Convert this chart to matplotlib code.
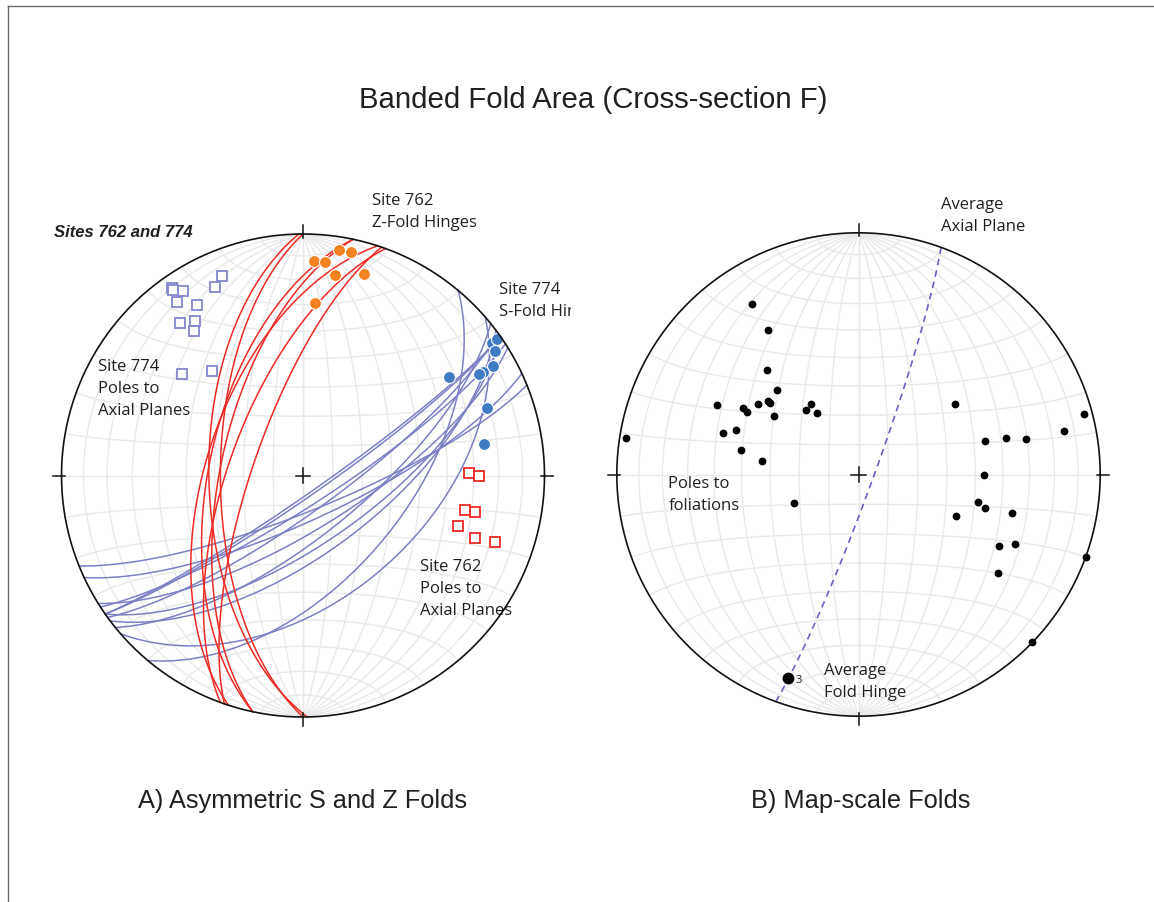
"""
Banded Fold Area (Cross-section F): two lower-hemisphere equal-area nets.
Output: out.png
"""

import numpy as np
import matplotlib
matplotlib.use("Agg")
import matplotlib.pyplot as plt
from matplotlib.lines import Line2D

# ---------------------------------------------------------------------------
# Data (degrees, lower hemisphere)
# ---------------------------------------------------------------------------

# Site 762 - Z-fold hinges (trend / plunge)
z_hinge_trend  = [3, 6, 9, 12, 9, 17, 4]
z_hinge_plunge = [12, 12, 6, 6, 17, 14, 29]

# Site 762 - poles to axial planes
ap762_trend  = [89, 90, 102, 102, 108, 110, 109]
ap762_plunge = [32, 28, 32, 28, 33, 25, 17]

# Site 774 - S-fold hinges
s_hinge_trend  = [55, 57, 60, 60, 60, 56, 70, 80, 55]
s_hinge_plunge = [5, 6, 10, 15, 17, 28, 20, 25, 2]

# Site 774 - poles to axial planes
ap774_trend  = [338, 335, 325, 325, 327, 324, 328, 321, 325, 323, 310, 319]
ap774_plunge = [12, 15, 6, 7, 10, 12, 18, 20, 23, 26, 35, 42]

# Map-scale folds - poles to foliations
fol_trend  = [328, 328, 319, 316, 296, 300, 299, 305, 309, 309, 305, 326,
              321, 326, 287, 290, 282, 278, 279, 54, 75, 78, 75, 76,
              78, 90, 246, 103, 105, 104, 113, 117, 114, 125, 110, 134]
fol_plunge = [18, 30, 42, 50, 35, 44, 46, 48, 50, 51, 55, 61,
              62, 65, 41, 45, 49, 57, 3, 49, 4, 14, 45, 37,
              30, 47, 66, 48, 45, 35, 54, 35, 30, 30, 0, 0]

# Average axial plane (dip direction / dip) and average fold hinge
avg_plane_dipdir = 110
avg_plane_dip    = 85
avg_hinge_trend  = 199
avg_hinge_plunge = 12
avg_hinge_count  = 3

# ---------------------------------------------------------------------------
# Style
# ---------------------------------------------------------------------------

TEXT     = "#231f20"
GRID     = "#e9e9eb"
RED      = "#ee2a24"
ORANGE   = "#f58220"
LAVENDER = "#7b80c4"
SQ_BLUE  = "#8287cc"
DOT_BLUE = "#3f7cc4"
DASH     = "#6f5fc4"
LABEL_FONT = ["Open Sans", "DejaVu Sans"]
TITLE_FONT = ["Liberation Sans", "DejaVu Sans"]

# ---------------------------------------------------------------------------
# Equal-area projection helpers
# ---------------------------------------------------------------------------

def project(trend, plunge):
    t = np.radians(np.asarray(trend, dtype=float))
    p = np.radians(np.asarray(plunge, dtype=float))
    r = np.sqrt(2) * np.sin((np.pi / 2 - p) / 2)
    return r * np.sin(t), r * np.cos(t)


def vec_to_line(e, n, d):
    plunge = np.degrees(np.arcsin(np.clip(d, -1, 1)))
    trend = np.degrees(np.arctan2(e, n))
    return trend, plunge


def plane_curve(dipdir, dip, num=241):
    st = np.radians(dipdir - 90)
    dd = np.radians(dipdir)
    dp = np.radians(dip)
    a = np.linspace(0, np.pi, num)
    e = np.cos(a) * np.sin(st) + np.sin(a) * np.sin(dd) * np.cos(dp)
    n = np.cos(a) * np.cos(st) + np.sin(a) * np.cos(dd) * np.cos(dp)
    d = np.sin(a) * np.sin(dp)
    return project(*vec_to_line(e, n, d))


def small_circle_ns(cone, num=181):
    # small circle around the N-S horizontal axis
    c = np.radians(cone)
    f = np.linspace(0, np.pi, num)
    e = np.sin(c) * np.cos(f)
    n = np.full_like(f, np.cos(c))
    d = np.sin(c) * np.sin(f)
    return project(*vec_to_line(e, n, d))


def draw_net(ax):
    for cone in range(10, 180, 10):
        x, y = small_circle_ns(cone)
        ax.plot(x, y, color=GRID, lw=1.0, zorder=1)
    for dip in range(10, 91, 10):
        for dipdir in (90, 270):
            x, y = plane_curve(dipdir, dip)
            ax.plot(x, y, color=GRID, lw=1.0, zorder=1)
    th = np.linspace(0, 2 * np.pi, 721)
    ax.plot(np.cos(th), np.sin(th), color="#111111", lw=1.2, zorder=6)
    for az in (0, 90, 180, 270):
        s, c = np.sin(np.radians(az)), np.cos(np.radians(az))
        ax.plot([0.985 * s, 1.036 * s], [0.985 * c, 1.036 * c],
                color="#111111", lw=1.1, zorder=6)
    k = 0.03
    ax.plot([-k, k], [0, 0], color="#111111", lw=1.1, zorder=6)
    ax.plot([0, 0], [-k, k], color="#111111", lw=1.1, zorder=6)


LINE_STEP = 22 / 241.6  # one text line, in net radii


def label(ax, x, y, lines, **kw):
    for i, s in enumerate(lines):
        ax.text(x, y - i * LINE_STEP, s, family=LABEL_FONT, fontsize=12,
                color=TEXT, ha="left", va="center_baseline", **kw)

# ---------------------------------------------------------------------------
# Figure and axes
# ---------------------------------------------------------------------------

W, H = 1154, 903
fig = plt.figure(figsize=(W / 100, H / 100), dpi=100, facecolor="white")

HALF = 268  # axes half-size in pixels


def net_axes(cx, cy, radius):
    ax = fig.add_axes([(cx - HALF) / W, (H - cy - HALF) / H,
                       2 * HALF / W, 2 * HALF / H])
    lim = HALF / radius
    ax.set_xlim(-lim, lim)
    ax.set_ylim(-lim, lim)
    ax.axis("off")
    return ax


ax1 = net_axes(303, 476.5, 241.5)
ax2 = net_axes(858.5, 475.5, 241.7)

# ---------------------------------------------------------------------------
# A) Asymmetric S and Z folds
# ---------------------------------------------------------------------------

draw_net(ax1)

for t, p in zip(ap774_trend, ap774_plunge):
    x, y = plane_curve((t + 180) % 360, 90 - p)
    ax1.plot(x, y, color=LAVENDER, lw=1.1, zorder=2)

for t, p in zip(ap762_trend, ap762_plunge):
    x, y = plane_curve((t + 180) % 360, 90 - p)
    ax1.plot(x, y, color=RED, lw=1.1, zorder=3)

x, y = project(ap774_trend, ap774_plunge)
ax1.plot(x, y, "s", ms=7.5, mfc="white", mec=SQ_BLUE, mew=1.3, ls="none", zorder=4)
x, y = project(ap762_trend, ap762_plunge)
ax1.plot(x, y, "s", ms=7.5, mfc="white", mec=RED, mew=1.3, ls="none", zorder=4)

x, y = project(z_hinge_trend, z_hinge_plunge)
ax1.plot(x, y, "o", ms=8.6, mfc=ORANGE, mec="white", mew=0.8, ls="none", zorder=5)
x, y = project(s_hinge_trend, s_hinge_plunge)
ax1.plot(x, y, "o", ms=8.6, mfc=DOT_BLUE, mec="white", mew=0.8, ls="none", zorder=5)

ax1.text(-1.031, 1.012, "Sites 762 and 774", family=TITLE_FONT, fontsize=12,
         fontweight="bold", fontstyle="italic", color=TEXT, ha="left", va="center")
label(ax1, 0.286, 1.149, ["Site 762", "Z-Fold Hinges"])
label(ax1, 0.812, 0.779, ["Site 774", "S-Fold Hinges"], clip_on=True)
label(ax1, -0.849, 0.462, ["Site 774", "Poles to", "Axial Planes"])
label(ax1, 0.484, -0.366, ["Site 762", "Poles to", "Axial Planes"])

# ---------------------------------------------------------------------------
# B) Map-scale folds
# ---------------------------------------------------------------------------

draw_net(ax2)

x, y = plane_curve(avg_plane_dipdir, avg_plane_dip)
ax2.plot(x, y, color=DASH, lw=1.2, ls=(0, (4, 3)), zorder=3)

x, y = project(fol_trend, fol_plunge)
ax2.plot(x, y, "o", ms=4.6, color="black", ls="none", zorder=5)

hx, hy = project(avg_hinge_trend, avg_hinge_plunge)
ax2.plot(hx, hy, "o", ms=7.5, color="black", zorder=5)
ax2.annotate(str(avg_hinge_count), xy=(hx, hy), xytext=(5, -1.5),
             textcoords="offset points", family=LABEL_FONT, fontsize=8,
             color=TEXT, ha="left", va="center")

label(ax2, 0.340, 1.126, ["Average", "Axial Plane"])
label(ax2, -0.787, -0.026, ["Poles to", "foliations"])
label(ax2, -0.143, -0.802, ["Average", "Fold Hinge"])

# ---------------------------------------------------------------------------
# Titles and frame
# ---------------------------------------------------------------------------

fig.text(593 / W, 1 - 100 / H, "Banded Fold Area (Cross-section F)",
         family=TITLE_FONT, fontsize=21.2, color=TEXT, ha="center", va="center")
fig.text(302 / W, 1 - 801 / H, "A) Asymmetric S and Z Folds",
         family=TITLE_FONT, fontsize=18.3, color=TEXT, ha="center", va="center")
fig.text(861 / W, 1 - 801 / H, "B) Map-scale Folds",
         family=TITLE_FONT, fontsize=18.3, color=TEXT, ha="center", va="center")

fig.add_artist(Line2D([8 / W, 1], [1 - 7 / H, 1 - 7 / H], color="#6b6b6b", lw=1))
fig.add_artist(Line2D([8 / W, 8 / W], [0, 1 - 7 / H], color="#6b6b6b", lw=1))

fig.savefig("out.png", dpi=100, facecolor="white")
